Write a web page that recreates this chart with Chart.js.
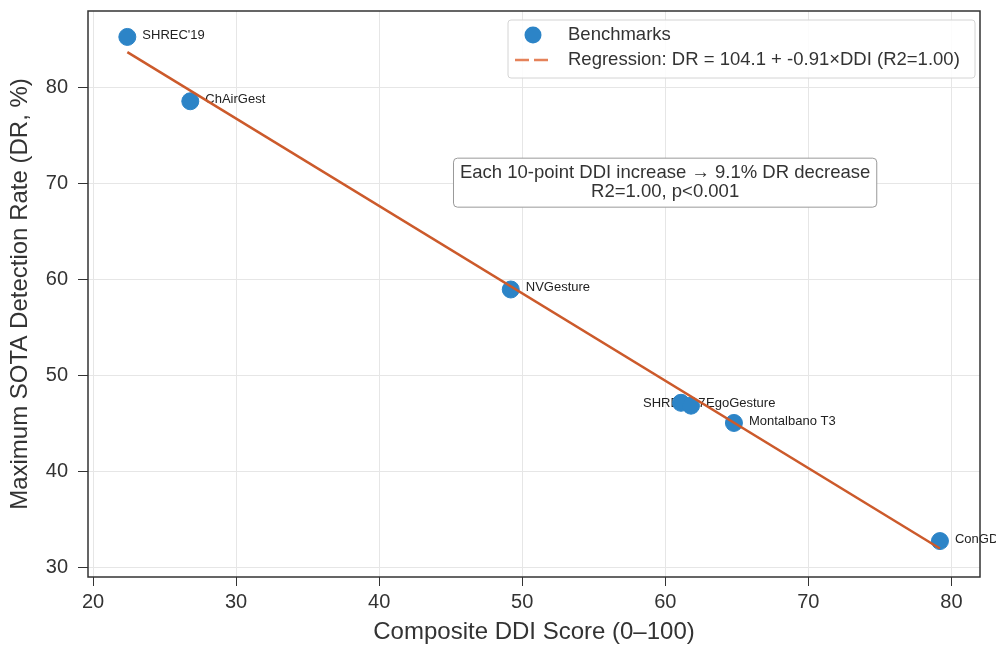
<!DOCTYPE html>
<html>
<head>
<meta charset="utf-8">
<script src="https://cdn.jsdelivr.net/npm/chart.js@4.4.1/dist/chart.umd.min.js"></script>
<style>
  html, body { margin: 0; padding: 0; background: #fff; }
  #wrap { width: 996px; height: 646px; }
</style>
</head>
<body>
<div id="wrap"><canvas id="ddiChart" width="996" height="646"></canvas></div>
<script>
// Benchmarks
const benchNames = ["SHREC'19", "ChAirGest", "NVGesture", "SHREC'17", "EgoGesture", "Montalbano T3", "ConGD"];
const ddiScores = [22.4, 26.8, 49.2, 61.1, 61.8, 64.8, 79.2];
const detectionRates = [85.3, 78.6, 59.0, 47.2, 46.9, 45.1, 32.8];

// Fitted line DR = a + b*DDI
const fitIntercept = 104.1;
const fitSlope = -0.91;
const fitR2 = "1.00";

const xTicks = [20, 30, 40, 50, 60, 70, 80];
const yTicks = [30, 40, 50, 60, 70, 80];

const noteLines = ["Each 10-point DDI increase \u2192 9.1% DR decrease", "R2=1.00, p<0.001"];

const FONT = "'Liberation Sans', Arial, sans-serif";

const xLo = Math.min(...ddiScores), xHi = Math.max(...ddiScores);
const fitPoints = [xLo, xHi].map(x => ({ x: x, y: fitIntercept + fitSlope * x }));
const benchPoints = ddiScores.map((x, i) => ({ x: x, y: detectionRates[i] }));

const BLUE = "#2c84c7";
const ORANGE = "#cc5a2b";

// Point labels, drawn under the markers like in the original
const pointLabels = {
  id: "pointLabels",
  beforeDatasetsDraw(chart) {
    const ctx = chart.ctx;
    const meta = chart.getDatasetMeta(0);
    ctx.save();
    ctx.font = "13px " + FONT;
    ctx.fillStyle = "#222";
    ctx.textBaseline = "middle";
    ctx.textAlign = "left";
    meta.data.forEach((pt, i) => {
      const name = benchNames[i];
      if (name === "SHREC'17") {
        ctx.fillText(name, pt.x - 38, pt.y + 1);
      } else {
        ctx.fillText(name, pt.x + 15, pt.y - 2);
      }
    });
    ctx.restore();
  }
};

// Frame, legend box and the note box
const extras = {
  id: "extras",
  afterDraw(chart) {
    const ctx = chart.ctx;
    const a = chart.chartArea;
    ctx.save();
    ctx.strokeStyle = "#333";
    ctx.lineWidth = 1.5;
    ctx.strokeRect(a.left, a.top, a.right - a.left, a.bottom - a.top);

    // legend
    const lx = 508, ly = 20, lw = 467, lh = 58;
    ctx.fillStyle = "rgba(255,255,255,0.85)";
    ctx.strokeStyle = "#d4d4d4";
    ctx.lineWidth = 1;
    ctx.beginPath();
    ctx.roundRect(lx, ly, lw, lh, 3);
    ctx.fill();
    ctx.stroke();

    ctx.fillStyle = BLUE;
    ctx.beginPath();
    ctx.arc(533, 35, 8.5, 0, Math.PI * 2);
    ctx.fill();

    ctx.strokeStyle = "#e5825a";
    ctx.lineWidth = 2.5;
    ctx.setLineDash([14, 5]);
    ctx.beginPath();
    ctx.moveTo(515, 60);
    ctx.lineTo(550, 60);
    ctx.stroke();
    ctx.setLineDash([]);

    ctx.fillStyle = "#333";
    ctx.font = "18.5px " + FONT;
    ctx.textAlign = "left";
    ctx.textBaseline = "middle";
    chart.data.datasets.forEach((ds, i) => {
      ctx.fillText(ds.label, 568, i === 0 ? 35 : 60);
    });

    // note box
    const cx = a.left + (a.right - a.left) * 0.647;
    const top = a.top + (a.bottom - a.top) * 0.26;
    ctx.font = "18.5px " + FONT;
    const tw = Math.max(...noteLines.map(t => ctx.measureText(t).width));
    const bw = tw + 13, bh = 49;
    ctx.fillStyle = "#fff";
    ctx.strokeStyle = "#999";
    ctx.lineWidth = 1;
    ctx.beginPath();
    ctx.roundRect(cx - bw / 2, top, bw, bh, 4);
    ctx.fill();
    ctx.stroke();
    ctx.fillStyle = "#333";
    ctx.textAlign = "center";
    noteLines.forEach((t, i) => ctx.fillText(t, cx, top + 15 + i * 19));
    ctx.restore();
  }
};

new Chart(document.getElementById("ddiChart"), {
  type: "scatter",
  data: {
    datasets: [
      {
        label: "Benchmarks",
        data: benchPoints,
        backgroundColor: BLUE,
        borderColor: BLUE,
        pointRadius: 8.5,
        pointHoverRadius: 8.5,
        order: 1
      },
      {
        label: "Regression: DR = " + fitIntercept + " + " + fitSlope + "\u00d7DDI (R2=" + fitR2 + ")",
        type: "line",
        data: fitPoints,
        borderColor: ORANGE,
        borderWidth: 2.5,
        pointRadius: 0,
        fill: false,
        order: 0
      }
    ]
  },
  options: {
    responsive: false,
    animation: false,
    layout: { padding: { top: 11, right: 16, left: 0, bottom: 0 } },
    plugins: { legend: { display: false }, tooltip: { enabled: false } },
    scales: {
      x: {
        type: "linear",
        min: 19.65,
        max: 82.0,
        afterBuildTicks: s => { s.ticks = xTicks.map(v => ({ value: v })); },
        afterFit: s => { s.height = 69; s.paddingLeft = 0; s.paddingRight = 0; },
        grid: { color: "#e6e6e6", tickColor: "#333", tickLength: 9, lineWidth: 1 },
        border: { display: false },
        ticks: { color: "#333", font: { family: FONT, size: 20 }, padding: 4 },
        title: {
          display: true,
          text: "Composite DDI Score (0\u2013100)",
          color: "#333",
          font: { family: FONT, size: 24, lineHeight: 1.1 },
          padding: { top: 0, bottom: 0 }
        }
      },
      y: {
        type: "linear",
        min: 29.06,
        max: 88.0,
        afterBuildTicks: s => { s.ticks = yTicks.map(v => ({ value: v })); },
        afterFit: s => { s.width = 88; s.paddingTop = 0; s.paddingBottom = 0; },
        grid: { color: "#e6e6e6", tickColor: "#333", tickLength: 10, lineWidth: 1 },
        border: { display: false },
        ticks: { color: "#333", font: { family: FONT, size: 20 }, padding: 10 },
        title: {
          display: true,
          text: "Maximum SOTA Detection Rate (DR, %)",
          color: "#333",
          font: { family: FONT, size: 24, lineHeight: 1.1 },
          padding: { top: 7, bottom: 0 }
        }
      }
    }
  },
  plugins: [pointLabels, extras]
});
</script>
</body>
</html>
